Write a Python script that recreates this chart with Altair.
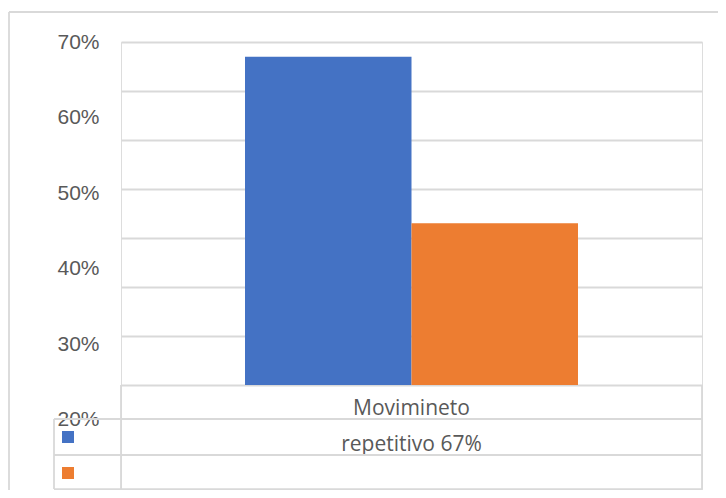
import altair as alt
import pandas as pd

# ---- data ----
categories = ["Movimineto repetitivo 67%"]
series = ["Serie1", "Serie2"]
values = [0.67, 0.33]
colors = ["#4472C4", "#ED7D31"]
grid_ticks = [0.0, 0.1, 0.2, 0.3, 0.4, 0.5, 0.6, 0.7]
label_ticks = [0.2, 0.3, 0.4, 0.5, 0.6, 0.7]

df = pd.DataFrame({"cat": categories * len(series), "serie": series, "valor": values})
ticks_df = pd.DataFrame({"v": label_ticks})
one = pd.DataFrame({"k": [0]})

GRAY = "#d9d9d9"
TXT = "#595959"
LW = 1.8
PLOT_H = 343     # height of the bar region
TOTAL_H = 448    # bar region + data table

bars = alt.Chart(df).mark_bar().encode(
    x=alt.X(
        "cat:N",
        sort=categories,
        scale=alt.Scale(paddingOuter=0.3724, paddingInner=0),
        axis=alt.Axis(
            orient="bottom", offset=-(TOTAL_H - PLOT_H), domain=False, ticks=False,
            tickSize=0, grid=False, labelAngle=0, labelPadding=12, labelLimit=0,
            labelExpr="[substring(datum.label, 0, 10), substring(datum.label, 11)]",
            labelFont="Open Sans", labelFontSize=21, labelColor=TXT,
            labelLineHeight=36, title=None,
        ),
    ),
    xOffset=alt.XOffset("serie:N", sort=series, scale=alt.Scale(paddingInner=0, paddingOuter=0)),
    y=alt.Y(
        "valor:Q",
        scale=alt.Scale(domain=[0, 0.7], range=[PLOT_H, 0]),
        axis=alt.Axis(
            values=grid_ticks, grid=True, gridColor=GRAY, gridWidth=LW,
            labels=False, ticks=False, domain=False, title=None,
        ),
    ),
    y2=alt.datum(0),
    color=alt.Color(
        "serie:N",
        sort=series,
        scale=alt.Scale(domain=series, range=colors),
        legend=alt.Legend(
            orient="none", legendX=-59, legendY=389, title=None,
            symbolType="square", symbolSize=144, symbolStrokeWidth=0,
            labelExpr="''", labelFontSize=8, rowPadding=24, padding=0,
        ),
    ),
)

labels = alt.Chart(ticks_df).mark_point(opacity=0).encode(
    y=alt.Y(
        "v:Q",
        scale=alt.Scale(domain=[0.2, 0.7], range=[377.5, 0]),
        axis=alt.Axis(
            orient="left", values=label_ticks, format=".0%", grid=False,
            ticks=False, domain=False, labelPadding=22, labelFlush=False,
            labelOverlap=False, labelBound=False,
            labelFont="Liberation Sans", labelFontSize=21, labelColor=TXT,
            labelBaseline="middle", title=None,
        ),
    )
)


def hline(y, x0, x1):
    return alt.Chart(one).mark_rule(color=GRAY, strokeWidth=LW).encode(
        x=alt.value(x0), x2=alt.value(x1), y=alt.value(y)
    )


def vline(x, y0, y1):
    return alt.Chart(one).mark_rule(color=GRAY, strokeWidth=LW).encode(
        x=alt.value(x), y=alt.value(y0), y2=alt.value(y1)
    )


table = [
    hline(377, -67, 581),
    hline(413, -67, 581),
    hline(447.1, -67, 581),
    vline(-67, 377, 447.1),
    vline(0, PLOT_H, 447.1),
    vline(581, PLOT_H, 447.1),
    hline(-30, -112, 620),
    vline(-112, -30, 470),
]

chart = alt.layer(bars, labels, *table).resolve_scale(y="independent").properties(
    width=581,
    height=TOTAL_H,
    autosize="none",
    padding={"left": 113, "top": 34, "right": 16, "bottom": 0},
).configure_view(stroke=None).configure(background="white")

chart.save("out.html", embed_options={"renderer": "svg", "actions": False})
